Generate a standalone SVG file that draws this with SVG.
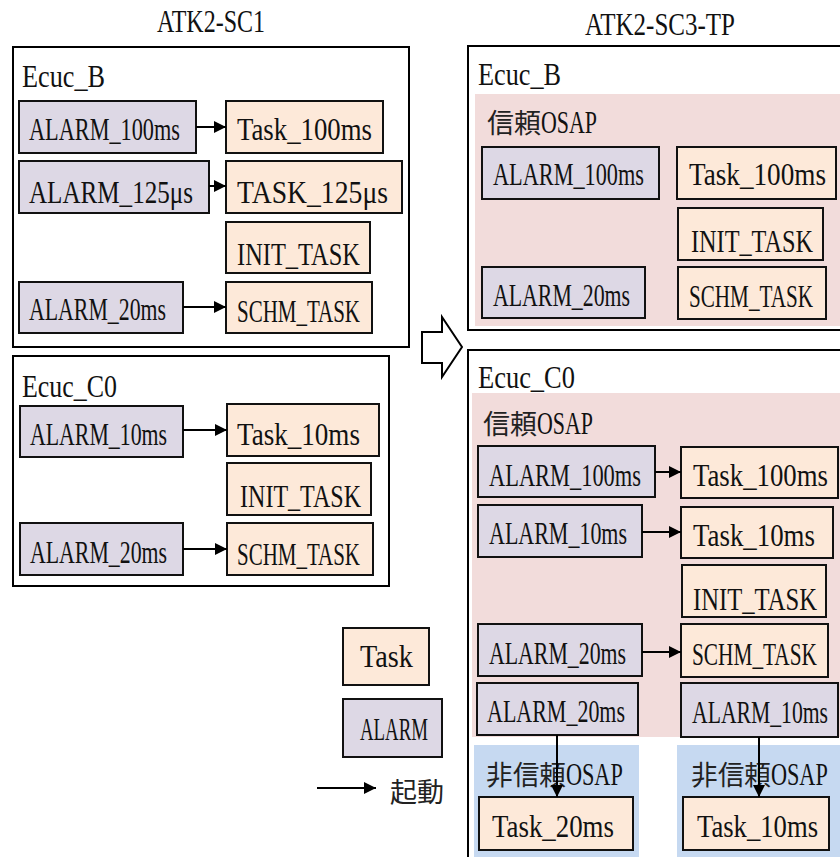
<svg xmlns="http://www.w3.org/2000/svg" width="840" height="857" viewBox="0 0 840 857">
<defs>
<marker id="ah" markerUnits="userSpaceOnUse" markerWidth="13" markerHeight="13" refX="12" refY="6" orient="auto">
<path d="M0,0 L12,6 L0,12 z" fill="#000"/>
</marker>
<style>
.frame{fill:#fff;stroke:#000;stroke-width:2}
.alarm{fill:#ddd8e5;stroke:#111;stroke-width:2}
.task{fill:#fde9d9;stroke:#111;stroke-width:2}
.pink{fill:#f2dcdb}
.blue{fill:#c6d9f1}
.t{font-family:"Liberation Serif","Noto Sans CJK JP",serif;font-size:31px;fill:#111}
.cj{font-family:"Noto Sans CJK JP","Liberation Serif",sans-serif;font-size:27px;fill:#222}
.c line{stroke:#000;stroke-width:2;marker-end:url(#ah)}
</style>
</defs>
<rect width="840" height="857" fill="#fff"/>

<text class="t" transform="translate(157 32) scale(.72 1)" textLength="150" lengthAdjust="spacingAndGlyphs">ATK2-SC1</text>
<text class="t" transform="translate(585 35) scale(.72 1)" textLength="208.3" lengthAdjust="spacingAndGlyphs">ATK2-SC3-TP</text>

<g id="sc1-ecuc-b">
<rect class="frame" x="13" y="47" width="396" height="300"/>
<text class="t" transform="translate(22 87) scale(.72 1)" textLength="115.3" lengthAdjust="spacingAndGlyphs">Ecuc_B</text>
</g>
<g id="sc1-b-alarm100"><rect class="alarm" x="19" y="101" width="177" height="52"/><text class="t" transform="translate(29 140) scale(.72 1)" textLength="209.7" lengthAdjust="spacingAndGlyphs">ALARM_100ms</text></g>
<g id="sc1-b-task100"><rect class="task" x="226" y="101" width="157" height="52"/><text class="t" transform="translate(237 140) scale(.72 1)" textLength="187.5" lengthAdjust="spacingAndGlyphs">Task_100ms</text></g>
<g id="sc1-b-alarm125"><rect class="alarm" x="19" y="161" width="190" height="52"/><text class="t" transform="translate(29 203) scale(.72 1)" textLength="227.8" lengthAdjust="spacingAndGlyphs">ALARM_125μs</text></g>
<g id="sc1-b-task125"><rect class="task" x="226" y="161" width="176" height="52"/><text class="t" transform="translate(237 203) scale(.72 1)" textLength="209.7" lengthAdjust="spacingAndGlyphs">TASK_125μs</text></g>
<g id="sc1-b-init"><rect class="task" x="226" y="222" width="144" height="51"/><text class="t" transform="translate(237 265) scale(.72 1)" textLength="170.8" lengthAdjust="spacingAndGlyphs">INIT_TASK</text></g>
<g id="sc1-b-alarm20"><rect class="alarm" x="19" y="282" width="164" height="51"/><text class="t" transform="translate(29 320) scale(.72 1)" textLength="190.3" lengthAdjust="spacingAndGlyphs">ALARM_20ms</text></g>
<g id="sc1-b-schm"><rect class="task" x="226" y="282" width="146" height="51"/><text class="t" transform="translate(237 322) scale(.72 1)" textLength="170.8" lengthAdjust="spacingAndGlyphs">SCHM_TASK</text></g>

<g id="sc1-ecuc-c0">
<rect class="frame" x="13" y="356" width="376" height="230"/>
<text class="t" transform="translate(22 397) scale(.72 1)" textLength="131.9" lengthAdjust="spacingAndGlyphs">Ecuc_C0</text>
</g>
<g id="sc1-c-alarm10"><rect class="alarm" x="20" y="406" width="163" height="51"/><text class="t" transform="translate(30 445) scale(.72 1)" textLength="190.3" lengthAdjust="spacingAndGlyphs">ALARM_10ms</text></g>
<g id="sc1-c-task10"><rect class="task" x="227" y="404" width="152" height="52"/><text class="t" transform="translate(237 445) scale(.72 1)" textLength="170.8" lengthAdjust="spacingAndGlyphs">Task_10ms</text></g>
<g id="sc1-c-init"><rect class="task" x="227" y="463" width="144" height="52"/><text class="t" transform="translate(240 507) scale(.72 1)" textLength="168.1" lengthAdjust="spacingAndGlyphs">INIT_TASK</text></g>
<g id="sc1-c-alarm20"><rect class="alarm" x="20" y="523" width="163" height="52"/><text class="t" transform="translate(30 563) scale(.72 1)" textLength="190.3" lengthAdjust="spacingAndGlyphs">ALARM_20ms</text></g>
<g id="sc1-c-schm"><rect class="task" x="227" y="523" width="146" height="52"/><text class="t" transform="translate(237 565) scale(.72 1)" textLength="170.8" lengthAdjust="spacingAndGlyphs">SCHM_TASK</text></g>

<g id="transition-arrow">
<polygon points="422,332 442,332 442,317 462,347 442,377 442,363 422,363" fill="#fff" stroke="#000" stroke-width="2" stroke-linejoin="miter"/>
</g>

<g id="tp-ecuc-b">
<rect class="frame" x="468" y="46" width="380" height="284"/>
<text class="t" transform="translate(478 85) scale(.72 1)" textLength="115.3" lengthAdjust="spacingAndGlyphs">Ecuc_B</text>
</g>
<g id="tp-b-trusted">
<rect class="pink" x="475" y="94" width="365" height="232"/>
<text transform="translate(487 133) scale(.72 1)"><tspan class="cj" textLength="75" lengthAdjust="spacingAndGlyphs">信頼</tspan><tspan class="t" textLength="77.8" lengthAdjust="spacingAndGlyphs">OSAP</tspan></text>
</g>
<g id="tp-b-alarm100"><rect class="alarm" x="482" y="147" width="177" height="52"/><text class="t" transform="translate(493 185) scale(.72 1)" textLength="209.7" lengthAdjust="spacingAndGlyphs">ALARM_100ms</text></g>
<g id="tp-b-task100"><rect class="task" x="677" y="147" width="159" height="52"/><text class="t" transform="translate(689 185) scale(.72 1)" textLength="190.3" lengthAdjust="spacingAndGlyphs">Task_100ms</text></g>
<g id="tp-b-init"><rect class="task" x="678" y="208" width="145" height="52"/><text class="t" transform="translate(691 252) scale(.72 1)" textLength="169.4" lengthAdjust="spacingAndGlyphs">INIT_TASK</text></g>
<g id="tp-b-alarm20"><rect class="alarm" x="482" y="267" width="163" height="51"/><text class="t" transform="translate(493 306) scale(.72 1)" textLength="190.3" lengthAdjust="spacingAndGlyphs">ALARM_20ms</text></g>
<g id="tp-b-schm"><rect class="task" x="678" y="267" width="148" height="52"/><text class="t" transform="translate(689 307) scale(.72 1)" textLength="172.2" lengthAdjust="spacingAndGlyphs">SCHM_TASK</text></g>

<g id="tp-ecuc-c0">
<rect class="frame" x="468" y="350" width="380" height="520"/>
<text class="t" transform="translate(478 388) scale(.72 1)" textLength="134.7" lengthAdjust="spacingAndGlyphs">Ecuc_C0</text>
</g>
<g id="tp-c-trusted">
<rect class="pink" x="472" y="393" width="368" height="344"/>
<text transform="translate(483 434) scale(.72 1)"><tspan class="cj" textLength="75" lengthAdjust="spacingAndGlyphs">信頼</tspan><tspan class="t" textLength="77.8" lengthAdjust="spacingAndGlyphs">OSAP</tspan></text>
</g>
<g id="tp-c-untrusted1">
<rect class="blue" x="474" y="745" width="165" height="112"/>
<text transform="translate(486 785) scale(.72 1)"><tspan class="cj" textLength="111" lengthAdjust="spacingAndGlyphs">非信頼</tspan><tspan class="t" textLength="79" lengthAdjust="spacingAndGlyphs">OSAP</tspan></text>
</g>
<g id="tp-c-untrusted2">
<rect class="blue" x="677" y="745" width="163" height="112"/>
<text transform="translate(691 785) scale(.72 1)"><tspan class="cj" textLength="111" lengthAdjust="spacingAndGlyphs">非信頼</tspan><tspan class="t" textLength="79" lengthAdjust="spacingAndGlyphs">OSAP</tspan></text>
</g>
<g id="tp-c-alarm100"><rect class="alarm" x="478" y="446" width="177" height="51"/><text class="t" transform="translate(489 486) scale(.72 1)" textLength="211.1" lengthAdjust="spacingAndGlyphs">ALARM_100ms</text></g>
<g id="tp-c-task100"><rect class="task" x="681" y="447" width="157" height="51"/><text class="t" transform="translate(693 486) scale(.72 1)" textLength="187.5" lengthAdjust="spacingAndGlyphs">Task_100ms</text></g>
<g id="tp-c-alarm10"><rect class="alarm" x="478" y="505" width="164" height="52"/><text class="t" transform="translate(489 544) scale(.72 1)" textLength="191.7" lengthAdjust="spacingAndGlyphs">ALARM_10ms</text></g>
<g id="tp-c-task10"><rect class="task" x="681" y="507" width="152" height="51"/><text class="t" transform="translate(693 546) scale(.72 1)" textLength="169.4" lengthAdjust="spacingAndGlyphs">Task_10ms</text></g>
<g id="tp-c-init"><rect class="task" x="682" y="565" width="144" height="52"/><text class="t" transform="translate(693 610) scale(.72 1)" textLength="172.2" lengthAdjust="spacingAndGlyphs">INIT_TASK</text></g>
<g id="tp-c-alarm20a"><rect class="alarm" x="478" y="624" width="164" height="52"/><text class="t" transform="translate(489 664) scale(.72 1)" textLength="190.3" lengthAdjust="spacingAndGlyphs">ALARM_20ms</text></g>
<g id="tp-c-schm"><rect class="task" x="681" y="624" width="147" height="53"/><text class="t" transform="translate(692 665) scale(.72 1)" textLength="173.6" lengthAdjust="spacingAndGlyphs">SCHM_TASK</text></g>
<g id="tp-c-alarm20b"><rect class="alarm" x="477" y="683" width="161" height="52"/><text class="t" transform="translate(487 722) scale(.72 1)" textLength="191.7" lengthAdjust="spacingAndGlyphs">ALARM_20ms</text></g>
<g id="tp-c-alarm10b"><rect class="alarm" x="681" y="683" width="157" height="54"/><text class="t" transform="translate(692 723) scale(.72 1)" textLength="188.9" lengthAdjust="spacingAndGlyphs">ALARM_10ms</text></g>
<g id="tp-c-task20"><rect class="task" x="479" y="797" width="154" height="53"/><text class="t" transform="translate(492 837) scale(.72 1)" textLength="169.4" lengthAdjust="spacingAndGlyphs">Task_20ms</text></g>
<g id="tp-c-task10b"><rect class="task" x="683" y="797" width="146" height="53"/><text class="t" transform="translate(697 837) scale(.72 1)" textLength="168.1" lengthAdjust="spacingAndGlyphs">Task_10ms</text></g>

<g id="legend-task"><rect class="task" x="343" y="628" width="86" height="57"/><text class="t" transform="translate(360 667) scale(.72 1)" textLength="73.6" lengthAdjust="spacingAndGlyphs">Task</text></g>
<g id="legend-alarm"><rect class="alarm" x="343" y="699" width="99" height="58"/><text class="t" transform="translate(360 740) scale(.72 1)" textLength="94.4" lengthAdjust="spacingAndGlyphs">ALARM</text></g>
<g id="legend-start"><text class="cj" x="390" y="802">起動</text></g>

<g id="connectors" class="c">
<line x1="196" y1="127" x2="226" y2="127"/>
<line x1="209" y1="186" x2="226" y2="186"/>
<line x1="183" y1="307" x2="226" y2="307"/>
<line x1="183" y1="430" x2="227" y2="430"/>
<line x1="183" y1="549" x2="227" y2="549"/>
<line x1="655" y1="472" x2="681" y2="472"/>
<line x1="642" y1="532" x2="681" y2="532"/>
<line x1="642" y1="652" x2="681" y2="652"/>
<line x1="557" y1="735" x2="557" y2="797"/>
<line x1="759" y1="737" x2="759" y2="797"/>
<line x1="317" y1="788" x2="376" y2="788"/>
</g>
</svg>
